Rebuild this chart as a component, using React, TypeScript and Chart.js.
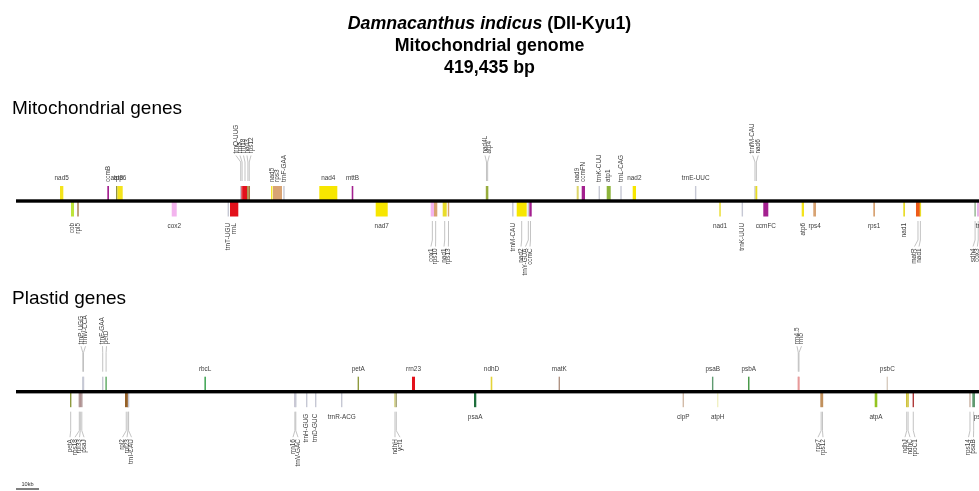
import React, { useEffect, useRef } from 'react';
import { Chart, registerables } from 'chart.js';

Chart.register(...registerables);

// ---------- Titles ----------
const TITLE_SPECIES = 'Damnacanthus indicus';
const TITLE_STRAIN = ' (DII-Kyu1)';
const TITLE_LINE2 = 'Mitochondrial genome';
const TITLE_LINE3 = '419,435 bp';
const SECTION_MITO = 'Mitochondrial genes';
const SECTION_PLASTID = 'Plastid genes';
const SCALE_LABEL = '10kb';
const SCALE_KB = 10;

// ---------- Mitochondrial genes (kb) ----------
const mitoNames = [
  'nad5', 'ccmB', 'atp8', 'atp6', 'trnQ-UUG', 'rrn5', 'rrn18', 'nad3', 'rps12',
  'nad5', 'rps3', 'trnF-GAA', 'nad4', 'mttB', 'nad4L', 'atp4', 'nad9', 'ccmFN',
  'trnK-CUU', 'atp1', 'trnL-CAG', 'nad2', 'trnE-UUC', 'trnfM-CAU', 'nad6',
  'cob', 'rpl5', 'cox2', 'trnT-UGU', 'rrnL', 'nad7', 'cox1', 'rps10', 'nad1', 'rps13',
  'trnM-CAU', 'nad2', 'trnY-GUA', 'ccmC', 'nad1', 'trnK-UUU', 'ccmFC', 'atp6', 'rps4',
  'rps1', 'nad1', 'matR', 'nad1', 'sdh4', 'cox3', 'trnN-GUU',
];
const mitoStart = [
  19.13, 39.70, 43.48, 44.13, 97.6, 98.2, 98.57, 100.57, 101.09,
  111.0, 111.74, 116.4, 131.87, 145.96, 204.35, 204.78, 243.78, 245.96,
  253.5, 256.83, 262.95, 268.13, 295.4, 321.2, 321.52,
  23.91, 26.65, 67.70, 92.2, 93.04, 156.39, 180.30, 181.74, 185.52, 187.83,
  215.9, 217.70, 222.65, 223.17, 306.0, 315.7, 324.91, 341.61, 346.65,
  372.74, 385.78, 391.30, 393.04, 416.9, 417.83, 423.4,
];
const mitoEnd = [
  20.57, 40.43, 44.13, 46.39, 97.8, 98.4, 100.57, 101.09, 101.74,
  111.4, 115.65, 116.6, 139.70, 146.65, 204.78, 205.35, 244.65, 247.39,
  253.7, 258.57, 263.15, 269.57, 295.6, 321.4, 322.30,
  25.22, 27.26, 69.87, 92.4, 96.65, 161.61, 181.74, 183.17, 187.26, 188.26,
  216.1, 222.04, 222.85, 224.22, 306.2, 315.9, 327.09, 342.61, 347.83,
  373.48, 386.52, 393.04, 393.4, 417.1, 418.9, 423.6,
];
// 1 = drawn above the backbone, -1 = below
const mitoStrand = [
  1, 1, 1, 1, 1, 1, 1, 1, 1,
  1, 1, 1, 1, 1, 1, 1, 1, 1,
  1, 1, 1, 1, 1, 1, 1,
  -1, -1, -1, -1, -1, -1, -1, -1, -1, -1,
  -1, -1, -1, -1, -1, -1, -1, -1, -1,
  -1, -1, -1, -1, -1, -1, -1,
];
// label style: h = horizontal, r = rotated, f = rotated with leader fan
const mitoLabelMode = [
  'h', 'r', 'h', 'h', 'f', 'f', 'f', 'f', 'f',
  'r', 'r', 'r', 'h', 'h', 'f', 'f', 'r', 'r',
  'r', 'r', 'r', 'h', 'h', 'f', 'f',
  'r', 'r', 'h', 'r', 'r', 'h', 'f', 'f', 'f', 'f',
  'r', 'f', 'f', 'f', 'h', 'r', 'h', 'r', 'h',
  'h', 'r', 'f', 'f', 'f', 'f', 'h',
];
const mitoLabelKb = [
  0, 0, 0, 0, 95.65, 97.39, 98.91, 100.43, 102.17,
  0, 0, 0, 0, 0, 203.91, 205.8, 0, 0,
  0, 0, 0, 0, 0, 320.3, 322.7,
  0, 0, 0, 0, 0, 0, 180.4, 182.4, 186.1, 188.0,
  0, 219.57, 221.52, 223.48, 0, 0, 0, 0, 0,
  0, 0, 390.65, 392.61, 416.1, 418.0, 0,
];

// ---------- Plastid-derived genes (kb) ----------
const plastidNames = [
  'trnP-UGG', 'trnW-CCA', 'trnF-GAA', 'petD', 'rbcL', 'petA', 'rrn23', 'ndhD', 'matK',
  'psaB', 'psbA', 'rrn4.5', 'rrn5', 'psbC',
  'petA', 'rps18', 'rpl33', 'psaJ', 'rpl2', 'rpl23', 'trnI-CAU', 'rrn16', 'trnV-GAC',
  'trnH-GUG', 'trnD-GUC', 'trnR-ACG', 'ndhH', 'ycf1', 'psaA', 'clpP', 'atpH', 'rps7',
  'rps12', 'atpA', 'ndhJ', 'ndhC', 'rpoC1', 'rps14', 'psaB', 'psbD',
];
const plastidStart = [
  28.95, 29.25, 37.6, 38.91, 81.96, 148.73, 172.17, 206.39, 236.12,
  302.8, 318.26, 340.03, 340.33, 378.73,
  23.68, 27.42, 27.86, 28.39, 47.39, 48.48, 48.86, 121.09, 121.55,
  126.29, 130.2, 141.51, 164.68, 165.25, 199.13, 290.03, 304.99, 349.70,
  350.43, 373.35, 386.96, 387.61, 390.03, 414.68, 415.78, 419.5,
];
const plastidEnd = [
  29.15, 29.45, 37.8, 39.43, 82.52, 148.93, 173.48, 207.09, 236.32,
  303.0, 318.91, 340.23, 340.53, 378.93,
  23.88, 27.62, 28.06, 28.83, 48.48, 48.83, 49.06, 121.43, 121.75,
  126.49, 130.4, 141.71, 164.88, 165.45, 200.13, 290.23, 305.19, 350.43,
  350.87, 374.48, 387.61, 388.13, 390.23, 414.88, 416.96, 419.8,
];
const plastidStrand = [
  1, 1, 1, 1, 1, 1, 1, 1, 1,
  1, 1, 1, 1, 1,
  -1, -1, -1, -1, -1, -1, -1, -1, -1,
  -1, -1, -1, -1, -1, -1, -1, -1, -1,
  -1, -1, -1, -1, -1, -1, -1, -1,
];
const plastidLabelMode = [
  'f', 'f', 'f', 'f', 'h', 'h', 'h', 'h', 'h',
  'h', 'h', 'f', 'f', 'h',
  'f', 'f', 'f', 'f', 'f', 'f', 'f', 'f', 'f',
  'r', 'r', 'h', 'f', 'f', 'h', 'h', 'h', 'f',
  'f', 'h', 'f', 'f', 'f', 'f', 'f', 'h',
];
const plastidLabelKb = [
  28.26, 30.22, 37.61, 39.35, 0, 0, 0, 0, 0,
  0, 0, 339.57, 341.52, 0,
  23.48, 25.65, 27.61, 29.57, 46.30, 48.26, 50.22, 120.43, 122.61,
  0, 0, 0, 164.78, 166.96, 0, 0, 0, 348.70,
  350.87, 0, 386.52, 388.70, 390.87, 414.13, 416.30, 0,
];

// ---------- Styles ----------
const MITO_COLORS: Record<string, string> = {
  nad5: '#f4e41c', nad4: '#f7e600', nad7: '#f7e600', nad2: '#f7e600', nad1: '#e9dc2a',
  nad3: '#9a8f3a', nad4L: '#9aaa40', nad6: '#e8dc20', nad9: '#ddd66a',
  ccmB: '#a3208f', ccmFN: '#a3208f', ccmFC: '#a3208f', ccmC: '#a3208f', mttB: '#a3208f',
  atp8: '#8f9240', atp6: '#f4e41c', atp4: '#93ad3b', atp1: '#8db43a',
  cob: '#bde43a', cox2: '#f3b4ee', cox1: '#f3b4ee', cox3: '#e8b4e8',
  rps12: '#a57a44', rps3: '#d8a373', rps10: '#d8a373', rps13: '#d8a373', rps4: '#d8a373',
  rps1: '#d8a373', rpl5: '#a57a4c',
  rrn18: '#e3111b', rrnL: '#e3111b', rrn5: '#e3111b',
  matR: '#ee5a1a', sdh4: '#90b48e',
};
const PLASTID_COLORS: Record<string, string> = {
  petD: '#5aa860', rbcL: '#2e9c44', petA: '#8e9a3e', rrn23: '#e3111b', ndhD: '#e4d43a',
  matK: '#b09484', psaB: '#5f9a70', psbA: '#4a9a4a', 'rrn4.5': '#e89a9a', rrn5: '#e89a9a',
  psbC: '#d8ccc0', rps18: '#b8a0a0', rpl33: '#b09090', psaJ: '#ae9494', rpl2: '#956128',
  rpl23: '#956128', rrn16: '#bdbbcb', ndhH: '#cfcc70', ycf1: '#a8a880', psaA: '#1e6e3c',
  clpP: '#d2bba8', atpH: '#f0f0c4', rps7: '#c0905c', rps12: '#c0905c', atpA: '#94c420',
  ndhJ: '#cec23a', ndhC: '#cec23a', rpoC1: '#b03a3a', rps14: '#c8b0a0', psbD: '#2e8a4a',
};
const TRNA_COLOR = '#c6c8d4';
const FONT = '"Liberation Sans", Arial, Helvetica, sans-serif';
const LABEL_FONT = `6.4px ${FONT}`;
const LABEL_COLOR = '#3c3c3c';
const LEADER_COLOR = '#bcbcbc';

// ---------- Layout ----------
const WIDTH = 979;
const HEIGHT = 491;
const X_MIN = -6.96;
const X_MAX = 418.7;
const MITO_TRACK_Y = 201;
const PLASTID_TRACK_Y = 391.7;
const BOX_H = 15;
const MIN_W = 1.4;

function colorOf(name: string, map: Record<string, string>) {
  if (name.startsWith('trn')) return TRNA_COLOR;
  return map[name] ?? '#bbbbbb';
}

function drawTrack(
  ctx: CanvasRenderingContext2D, xs: any, bb: number,
  names: string[], start: number[], end: number[], strand: number[],
  mode: string[], labelKb: number[], colors: Record<string, string>,
) {
  const centers: number[] = [];
  for (let i = 0; i < names.length; i++) {
    const x0 = xs.getPixelForValue(start[i]);
    const x1 = xs.getPixelForValue(end[i]);
    const w = Math.max(x1 - x0, MIN_W);
    const cx = (x0 + x1) / 2;
    centers.push(cx);
    ctx.fillStyle = colorOf(names[i], colors);
    if (strand[i] > 0) ctx.fillRect(cx - w / 2, bb - BOX_H, w, BOX_H);
    else ctx.fillRect(cx - w / 2, bb, w, BOX_H + 0.5);
  }
  // backbone
  const bx0 = xs.getPixelForValue(0);
  ctx.fillStyle = '#000';
  ctx.fillRect(bx0, bb - 1.7, WIDTH - bx0 + 20, 3.4);

  ctx.font = LABEL_FONT;
  ctx.textBaseline = 'middle';
  for (let i = 0; i < names.length; i++) {
    const up = strand[i] > 0;
    const s = up ? -1 : 1; // screen direction away from backbone
    const gx = centers[i];
    if (mode[i] === 'h') {
      ctx.fillStyle = LABEL_COLOR;
      ctx.textAlign = 'center';
      ctx.fillText(names[i], gx, up ? bb - 22.5 : bb + 25.5);
    } else if (mode[i] === 'r') {
      ctx.save();
      ctx.fillStyle = LABEL_COLOR;
      ctx.translate(gx, up ? bb - 19 : bb + 22);
      ctx.rotate(-Math.PI / 2);
      ctx.textAlign = up ? 'left' : 'right';
      ctx.fillText(names[i], 0, 0);
      ctx.restore();
    } else {
      const lx = xs.getPixelForValue(labelKb[i]);
      ctx.strokeStyle = LEADER_COLOR;
      ctx.lineWidth = 0.9;
      ctx.beginPath();
      ctx.moveTo(gx, bb + s * 20);
      ctx.lineTo(gx, bb + s * 39);
      ctx.lineTo(lx, bb + s * 45.5);
      ctx.stroke();
      ctx.save();
      ctx.fillStyle = LABEL_COLOR;
      ctx.translate(lx, bb + s * 47.5);
      ctx.rotate(-Math.PI / 2);
      ctx.textAlign = up ? 'left' : 'right';
      ctx.fillText(names[i], 0, 0);
      ctx.restore();
    }
  }
}

const genomePlugin = {
  id: 'genomeMap',
  afterDraw(chart: any) {
    const ctx: CanvasRenderingContext2D = chart.ctx;
    const xs = chart.scales.x;
    const ys = chart.scales.y;
    ctx.save();

    // Title
    const cx = WIDTH / 2;
    ctx.fillStyle = '#000';
    ctx.textBaseline = 'middle';
    const fi = `italic bold 17.8px ${FONT}`;
    const fb = `bold 17.8px ${FONT}`;
    ctx.font = fi;
    const w1 = ctx.measureText(TITLE_SPECIES).width;
    ctx.font = fb;
    const w2 = ctx.measureText(TITLE_STRAIN).width;
    const tx = cx - (w1 + w2) / 2;
    ctx.textAlign = 'left';
    ctx.font = fi;
    ctx.fillText(TITLE_SPECIES, tx, 24);
    ctx.font = fb;
    ctx.fillText(TITLE_STRAIN, tx + w1, 24);
    ctx.textAlign = 'center';
    ctx.fillText(TITLE_LINE2, cx, 46);
    ctx.fillText(TITLE_LINE3, cx, 68.5);

    // Section headings
    ctx.textAlign = 'left';
    ctx.textBaseline = 'alphabetic';
    ctx.font = `19px ${FONT}`;
    ctx.fillText(SECTION_MITO, 12, 113.5);
    ctx.fillText(SECTION_PLASTID, 12, 304);

    drawTrack(ctx, xs, ys.getPixelForValue(MITO_TRACK_Y), mitoNames, mitoStart, mitoEnd,
      mitoStrand, mitoLabelMode, mitoLabelKb, MITO_COLORS);
    drawTrack(ctx, xs, ys.getPixelForValue(PLASTID_TRACK_Y), plastidNames, plastidStart,
      plastidEnd, plastidStrand, plastidLabelMode, plastidLabelKb, PLASTID_COLORS);

    // Scale bar
    const s0 = xs.getPixelForValue(0);
    const s1 = xs.getPixelForValue(SCALE_KB);
    ctx.fillStyle = '#000';
    ctx.fillRect(s0, 488.5, s1 - s0, 1);
    ctx.font = `5.6px ${FONT}`;
    ctx.textAlign = 'center';
    ctx.textBaseline = 'middle';
    ctx.fillStyle = '#333';
    ctx.fillText(SCALE_LABEL, (s0 + s1) / 2, 484.5);
    ctx.restore();
  },
};

export default function App() {
  const ref = useRef<HTMLCanvasElement>(null);
  useEffect(() => {
    const canvas = ref.current;
    if (!canvas) return;
    const chart = new Chart(canvas, {
      type: 'scatter',
      data: {
        datasets: [
          {
            data: mitoNames.map((_, i) => ({ x: (mitoStart[i] + mitoEnd[i]) / 2, y: MITO_TRACK_Y })),
            pointRadius: 0,
          },
          {
            data: plastidNames.map((_, i) => ({ x: (plastidStart[i] + plastidEnd[i]) / 2, y: PLASTID_TRACK_Y })),
            pointRadius: 0,
          },
        ],
      },
      options: {
        animation: false,
        responsive: false,
        devicePixelRatio: 1,
        events: [],
        layout: { padding: 0 },
        plugins: {
          legend: { display: false },
          tooltip: { enabled: false },
          title: { display: false },
        },
        scales: {
          x: { type: 'linear', min: X_MIN, max: X_MAX, display: false },
          y: { type: 'linear', min: 0, max: HEIGHT, reverse: true, display: false },
        },
      },
      plugins: [genomePlugin],
    });
    return () => chart.destroy();
  }, []);
  return (
    <div style={{ position: 'fixed', left: 0, top: 0, width: WIDTH, height: HEIGHT, background: '#fff' }}>
      <canvas ref={ref} width={WIDTH} height={HEIGHT} style={{ display: 'block' }} />
    </div>
  );
}
